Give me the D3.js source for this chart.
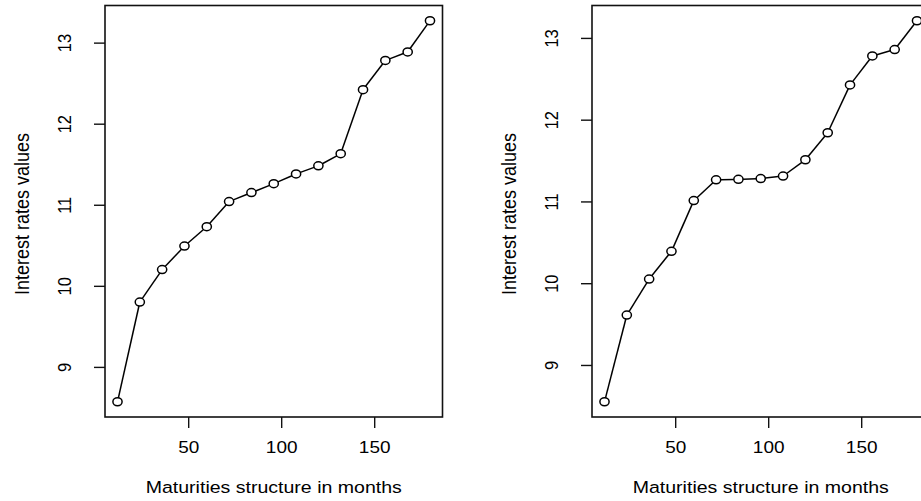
<!DOCTYPE html>
<meta charset="utf-8">
<style>
body { margin: 0; background: #fff; }
text { font-family: "Liberation Sans", Arial, sans-serif; fill: #000; }
</style>
<svg width="921" height="501"></svg>
<script src="https://d3js.org/d3.v7.min.js"></script>
<script>

// maturities in months, shared by both panels
var months = [12, 24, 36, 48, 60, 72, 84, 96, 108, 120, 132, 144, 156, 168, 180];

// left panel values
var ratesLeft = [8.57, 9.80, 10.20, 10.49, 10.73, 11.04, 11.15, 11.26, 11.38, 11.48, 11.63, 12.42, 12.78, 12.885, 13.27];
// right panel values
var ratesRight = [8.55, 9.61, 10.05, 10.39, 11.01, 11.265, 11.27, 11.28, 11.31, 11.51, 11.84, 12.425, 12.78, 12.857, 13.21];

var xTicks = [50, 100, 150];
var yTicks = [9, 10, 11, 12, 13];

var xTitle = "Maturities structure in months",
    yTitle = "Interest rates values";

var svg = d3.select("svg");

var plotTop = 5.5, plotBottom = 417, panelW = 337.5, tickLen = 11;
var stretch = 1.15; // text in the picture is a bit wide

// R style 4% padding around data range
function pad(ext) {
  var d = (ext[1] - ext[0]) * 0.04;
  return [ext[0] - d, ext[1] + d];
}

function drawPanel(left, rates) {
  var g = svg.append("g");

  var x = d3.scaleLinear()
      .domain(pad(d3.extent(months)))
      .range([left, left + panelW]);

  var y = d3.scaleLinear()
      .domain(pad(d3.extent(rates)))
      .range([plotBottom, plotTop]);

  // box
  g.append("rect")
      .attr("x", left)
      .attr("y", plotTop)
      .attr("width", panelW)
      .attr("height", plotBottom - plotTop)
      .attr("fill", "none")
      .attr("stroke", "#111")
      .attr("stroke-width", 1.6);

  // x axis
  var xa = g.append("g")
      .attr("transform", "translate(0," + plotBottom + ")")
      .call(d3.axisBottom(x).tickValues(xTicks).tickSize(tickLen).tickSizeOuter(0));
  xa.select(".domain").remove();
  xa.selectAll("line").attr("stroke", "#111").attr("stroke-width", 1.4);
  xa.selectAll("text")
      .attr("font-size", 16.5)
      .attr("font-family", "Liberation Sans, Arial, sans-serif")
      .attr("y", 0).attr("dy", null)
      .attr("transform", "translate(0,35.7) scale(" + stretch + ",1)");

  // y axis with rotated labels
  var ya = g.append("g")
      .attr("transform", "translate(" + left + ",0)")
      .call(d3.axisLeft(y).tickValues(yTicks).tickSize(tickLen).tickSizeOuter(0).tickFormat(d3.format("d")));
  ya.select(".domain").remove();
  ya.selectAll("line").attr("stroke", "#111").attr("stroke-width", 1.4);
  ya.selectAll("text")
      .attr("font-size", 16.5)
      .attr("font-family", "Liberation Sans, Arial, sans-serif")
      .attr("x", null).attr("dy", null)
      .attr("text-anchor", "middle")
      .attr("transform", "translate(-34,0) scale(" + stretch + ",1) rotate(-90)");

  // titles
  g.append("text")
      .attr("transform", "translate(" + (left + panelW / 2) + ",492.5) scale(" + stretch + ",1)")
      .attr("text-anchor", "middle")
      .attr("font-size", 17)
      .text(xTitle);

  g.append("text")
      .attr("transform", "translate(" + (left - 76.5) + ",214) scale(" + stretch + ",1) rotate(-90)")
      .attr("text-anchor", "middle")
      .attr("font-size", 18)
      .text(yTitle);

  var pts = months.map(function(m, i) { return [m, rates[i]]; });

  // line broken around points like R type="b"
  var rx = 4.6, ry = 4;
  g.selectAll("line.seg")
    .data(d3.pairs(pts))
    .enter().append("line")
      .attr("class", "seg")
      .each(function(d) {
        var x1 = x(d[0][0]), y1 = y(d[0][1]), x2 = x(d[1][0]), y2 = y(d[1][1]);
        var len = Math.hypot(x2 - x1, y2 - y1), ux = (x2 - x1) / len, uy = (y2 - y1) / len;
        var k = 1 / Math.sqrt((ux * ux) / (rx * rx) + (uy * uy) / (ry * ry));
        d3.select(this)
          .attr("x1", x1 + ux * k).attr("y1", y1 + uy * k)
          .attr("x2", x2 - ux * k).attr("y2", y2 - uy * k);
      })
      .attr("stroke", "#000")
      .attr("stroke-width", 1.5);

  g.selectAll("ellipse")
    .data(pts)
    .enter().append("ellipse")
      .attr("cx", function(d) { return x(d[0]); })
      .attr("cy", function(d) { return y(d[1]); })
      .attr("rx", rx)
      .attr("ry", ry)
      .attr("fill", "none")
      .attr("stroke", "#000")
      .attr("stroke-width", 1.5);
}

drawPanel(105, ratesLeft);
drawPanel(592, ratesRight);

</script>
